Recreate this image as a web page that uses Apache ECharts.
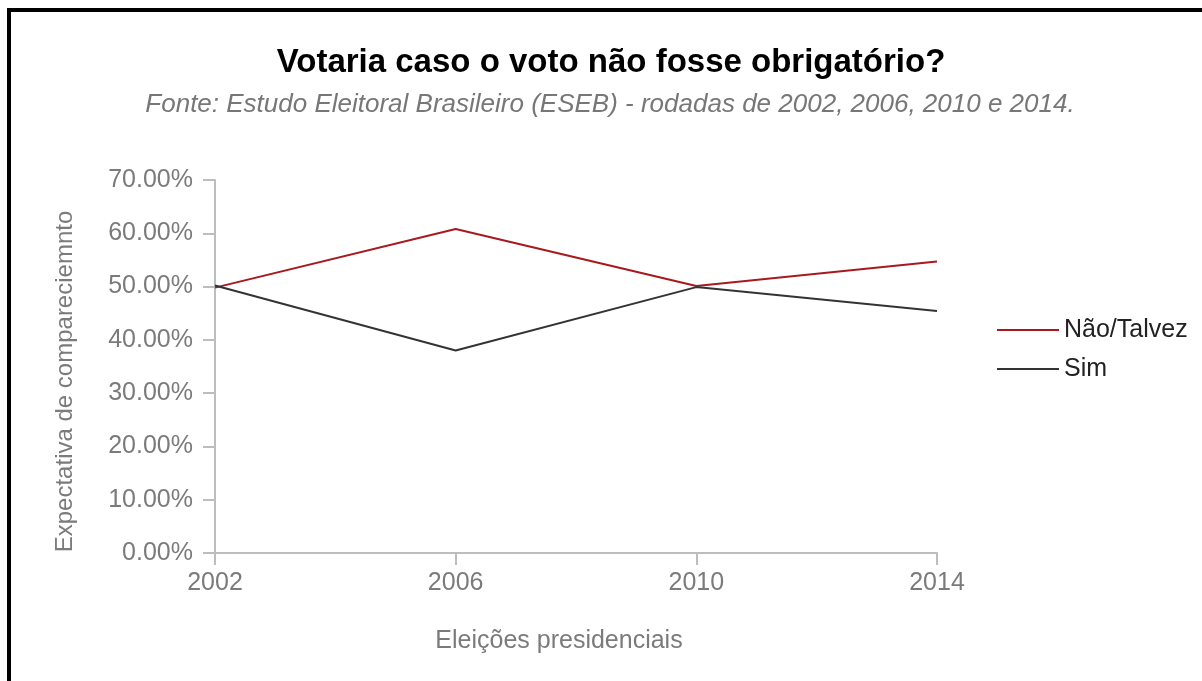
<!DOCTYPE html>
<html>
<head>
<meta charset="utf-8">
<title>Votaria caso o voto não fosse obrigatório?</title>
<script src="https://cdn.jsdelivr.net/npm/echarts@6/dist/echarts.min.js"></script>
<style>
  html, body { margin: 0; padding: 0; background: #fff; }
  #frame { position: absolute; left: 7px; top: 8px; width: 1195px; height: 673px;
           border-left: 4px solid #000; border-top: 4px solid #000; }
  #main { position: absolute; left: 0; top: 0; width: 1202px; height: 681px; }
</style>
</head>
<body>
<div id="frame"></div>
<div id="main"></div>
<script>
// dados
var anos = ['2002', '2006', '2010', '2014'];
var naoTalvez = [49.8, 60.8, 50.1, 54.7];
var sim = [50.2, 38.0, 49.9, 45.4];
var nomes = ['Não/Talvez', 'Sim'];
var cores = ['#a8191e', '#333333'];

var fonte = 'Liberation Sans, Arial, sans-serif';
var cinza = '#7b7b7b';

var chart = echarts.init(document.getElementById('main'));
var option = {
    animation: false,
    color: cores,
    title: [{
        text: 'Votaria caso o voto não fosse obrigatório?',
        left: 606,
        top: 41,
        textAlign: 'center',
        textStyle: { fontFamily: fonte, fontSize: 33, fontWeight: 'bold', color: '#000' }
    }, {
        text: 'Fonte: Estudo Eleitoral Brasileiro (ESEB) - rodadas de 2002, 2006, 2010 e 2014.',
        left: 605,
        top: 87,
        textAlign: 'center',
        textStyle: { fontFamily: fonte, fontSize: 26, fontStyle: 'italic', fontWeight: 'normal', color: '#777' }
    }],
    legend: {
        orient: 'vertical',
        left: 992,
        top: 310,
        icon: 'rect',
        itemWidth: 62,
        itemHeight: 2,
        itemGap: 9,
        data: nomes,
        textStyle: { fontFamily: fonte, fontSize: 25, color: '#222', lineHeight: 30 }
    },
    grid: { left: 215, right: 265, top: 180, bottom: 128 },
    xAxis: {
        type: 'category',
        data: anos,
        boundaryGap: false,
        name: 'Eleições presidenciais',
        nameLocation: 'middle',
        nameGap: 76,
        nameTextStyle: { fontFamily: fonte, fontSize: 25, color: cinza, padding: [0, 34, 0, 0] },
        axisLine: { lineStyle: { color: '#bdbdbd', width: 2 } },
        axisTick: { alignWithLabel: true, length: 12, lineStyle: { color: '#bdbdbd', width: 2 } },
        axisLabel: { fontFamily: fonte, fontSize: 25, color: cinza, margin: 18 }
    },
    yAxis: {
        type: 'value',
        min: 0,
        max: 70,
        interval: 10,
        name: 'Expectativa de compareciemnto',
        nameLocation: 'middle',
        nameGap: 138,
        nameTextStyle: { fontFamily: fonte, fontSize: 24, color: cinza, padding: [0, 30, 0, 0] },
        axisLine: { show: true, lineStyle: { color: '#bdbdbd', width: 2 } },
        axisTick: { show: true, length: 12, lineStyle: { color: '#bdbdbd', width: 2 } },
        splitLine: { show: false },
        axisLabel: {
            fontFamily: fonte, fontSize: 25, color: cinza, margin: 22,
            formatter: function (v) { return v.toFixed(2) + '%'; }
        }
    },
    series: [{
        name: nomes[0],
        type: 'line',
        data: naoTalvez,
        symbol: 'none',
        lineStyle: { width: 2 }
    }, {
        name: nomes[1],
        type: 'line',
        data: sim,
        symbol: 'none',
        lineStyle: { width: 2 }
    }]
};
chart.setOption(option);
</script>
</body>
</html>
